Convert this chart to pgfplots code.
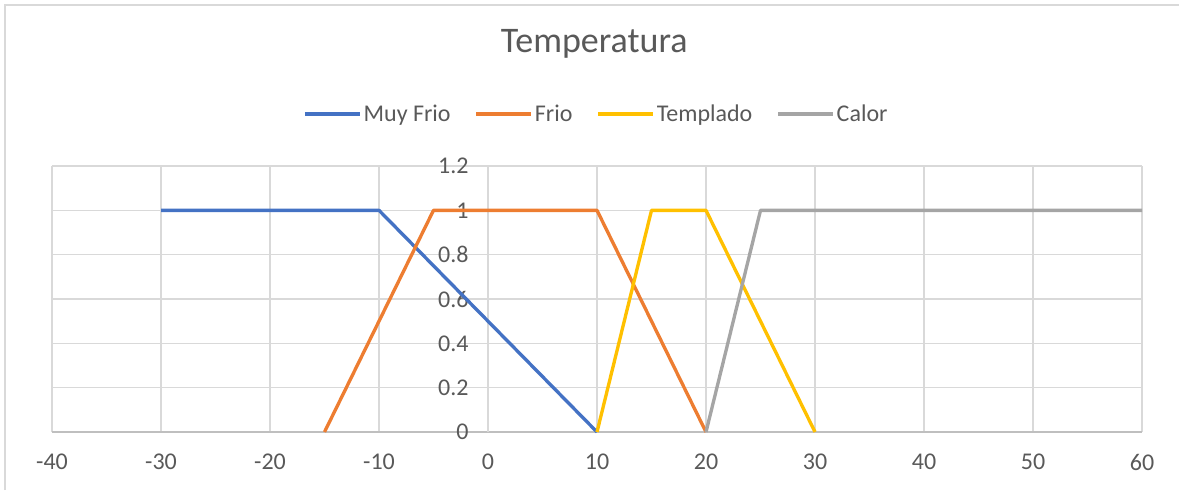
\documentclass[border=0pt]{standalone}
\usepackage{fontspec}
\setmainfont{Carlito}
\usepackage{pgfplots}
\pgfplotsset{compat=1.18}

\definecolor{serA}{HTML}{4472C4}
\definecolor{serB}{HTML}{ED7D31}
\definecolor{serC}{HTML}{FFC000}
\definecolor{serD}{HTML}{A5A5A5}
\definecolor{txt}{HTML}{595959}
\definecolor{gridc}{HTML}{D9D9D9}
\definecolor{axc}{HTML}{BFBFBF}

\begin{document}
\begin{tikzpicture}
\begin{axis}[
    scale only axis,
    width=817.5pt, height=199.5pt,
    xmin=-40, xmax=60, ymin=0, ymax=1.2,
    xtick={-40,-30,...,60},
    ytick={0,0.2,...,1.2},
    axis x line*=bottom,
    axis y line*=middle,
    hide obscured x ticks=false,
    hide obscured y ticks=false,
    x axis line style={axc, line width=1.1pt},
    y axis line style={gridc, line width=1pt},
    major tick length=0pt,
    grid=major,
    major grid style={gridc, line width=1pt},
    tick label style={font=\fontsize{18}{21}\selectfont, text=txt},
    /pgf/number format/assume math mode=true,
    xticklabel style={anchor=north, yshift=-13pt},
    yticklabel style={anchor=east, xshift=-11pt},
    clip=false,
    title={Temperatura},
    title style={font=\fontsize{27}{32}\selectfont, text=txt,
                 at={(axis description cs:0.4975,1)}, anchor=base, yshift=79.5pt},
    legend columns=-1,
    legend style={draw=none, fill=none, inner sep=0pt,
                  at={(axis description cs:0.2303,1.1955)}, anchor=west,
                  font=\fontsize{18}{21}\selectfont, text=txt,
                  nodes={inner sep=0pt, anchor=west},
                  /tikz/every even column/.append style={column sep=18pt}},
    legend image code/.code={\draw[#1, line width=2.5pt] (0pt,0pt) -- (41.25pt,0pt);},
    every axis plot/.append style={line width=2.5pt, line join=round},
]
\addplot[serA] coordinates {(-30,1) (-10,1) (10,0)};
\addlegendentry{\hspace{1.5pt}Muy Frio}
\addplot[serB] coordinates {(-15,0) (-5,1) (10,1) (20,0)};
\addlegendentry{\hspace{1.5pt}Frio}
\addplot[serC] coordinates {(10,0) (15,1) (20,1) (30,0)};
\addlegendentry{\hspace{1.5pt}Templado}
\addplot[serD] coordinates {(20,0) (25,1) (60,1)};
\addlegendentry{\hspace{1.5pt}Calor}
\coordinate (pa) at (rel axis cs:0,0);
\end{axis}
\pgfresetboundingbox
\path[use as bounding box] ([shift={(-39pt,-43.5pt)}]pa) rectangle ([shift={(845.25pt,324pt)}]pa);
\draw[gridc, line width=1.1pt] ([shift={(-35.25pt,-43.5pt)}]pa) -- ([shift={(-35.25pt,320.25pt)}]pa) -- ([shift={(845.25pt,320.25pt)}]pa);
\end{tikzpicture}
\end{document}
